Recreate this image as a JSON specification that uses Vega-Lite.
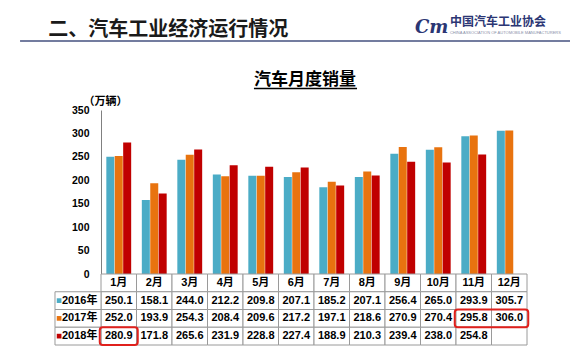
{
  "$schema": "https://vega.github.io/schema/vega-lite/v6.json",
  "background": "white",
  "padding": {"left": 19, "top": 14, "right": 5, "bottom": 5},
  "spacing": 0,
  "bounds": "flush",
  "config": {"view": {"stroke": null}, "font": "Liberation Sans, Noto Sans CJK SC"},
  "datasets": {
    "sales": [
      {"m": 1, "month": "1月", "year": "2016年", "v": 250.1},
      {"m": 2, "month": "2月", "year": "2016年", "v": 158.1},
      {"m": 3, "month": "3月", "year": "2016年", "v": 244.0},
      {"m": 4, "month": "4月", "year": "2016年", "v": 212.2},
      {"m": 5, "month": "5月", "year": "2016年", "v": 209.8},
      {"m": 6, "month": "6月", "year": "2016年", "v": 207.1},
      {"m": 7, "month": "7月", "year": "2016年", "v": 185.2},
      {"m": 8, "month": "8月", "year": "2016年", "v": 207.1},
      {"m": 9, "month": "9月", "year": "2016年", "v": 256.4},
      {"m": 10, "month": "10月", "year": "2016年", "v": 265.0},
      {"m": 11, "month": "11月", "year": "2016年", "v": 293.9},
      {"m": 12, "month": "12月", "year": "2016年", "v": 305.7},
      {"m": 1, "month": "1月", "year": "2017年", "v": 252.0},
      {"m": 2, "month": "2月", "year": "2017年", "v": 193.9},
      {"m": 3, "month": "3月", "year": "2017年", "v": 254.3},
      {"m": 4, "month": "4月", "year": "2017年", "v": 208.4},
      {"m": 5, "month": "5月", "year": "2017年", "v": 209.6},
      {"m": 6, "month": "6月", "year": "2017年", "v": 217.2},
      {"m": 7, "month": "7月", "year": "2017年", "v": 197.1},
      {"m": 8, "month": "8月", "year": "2017年", "v": 218.6},
      {"m": 9, "month": "9月", "year": "2017年", "v": 270.9},
      {"m": 10, "month": "10月", "year": "2017年", "v": 270.4},
      {"m": 11, "month": "11月", "year": "2017年", "v": 295.8},
      {"m": 12, "month": "12月", "year": "2017年", "v": 306.0},
      {"m": 1, "month": "1月", "year": "2018年", "v": 280.9},
      {"m": 2, "month": "2月", "year": "2018年", "v": 171.8},
      {"m": 3, "month": "3月", "year": "2018年", "v": 265.6},
      {"m": 4, "month": "4月", "year": "2018年", "v": 231.9},
      {"m": 5, "month": "5月", "year": "2018年", "v": 228.8},
      {"m": 6, "month": "6月", "year": "2018年", "v": 227.4},
      {"m": 7, "month": "7月", "year": "2018年", "v": 188.9},
      {"m": 8, "month": "8月", "year": "2018年", "v": 210.3},
      {"m": 9, "month": "9月", "year": "2018年", "v": 239.4},
      {"m": 10, "month": "10月", "year": "2018年", "v": 238.0},
      {"m": 11, "month": "11月", "year": "2018年", "v": 254.8},
      {"m": 12, "month": "12月", "year": "2018年", "v": null}
    ],
    "highlight": [
      {"year": "2018年", "from": 1, "to": 1},
      {"year": "2017年", "from": 11, "to": 12}
    ]
  },
  "vconcat": [
    {
      "width": 426,
      "height": 96,
      "data": {"values": [{}]},
      "layer": [
        {
          "mark": {"type": "rule", "color": "#44507f", "strokeWidth": 1.5},
          "encoding": {
            "x": {"datum": -19.0, "type": "quantitative", "scale": {"domain": [0, 100], "nice": false, "zero": false}, "axis": null},
            "x2": {"datum": 110.1},
            "y": {"datum": 28.1, "type": "quantitative", "scale": {"domain": [0, 100], "nice": false, "zero": false, "reverse": true}, "axis": null}
          }
        },
        {
          "mark": {"type": "text", "text": "二、汽车工业经济运行情况", "align": "left", "baseline": "middle", "fontSize": 20, "fontWeight": "bold", "color": "#1a1a1a"},
          "encoding": {
            "x": {"datum": -12.4, "type": "quantitative"},
            "y": {"datum": 16.7, "type": "quantitative"}
          }
        },
        {
          "mark": {"type": "text", "text": "Cm", "align": "left", "baseline": "middle", "fontSize": 18, "fontWeight": "bold", "fontStyle": "italic", "font": "DejaVu Serif", "color": "#2b3674"},
          "encoding": {
            "x": {"datum": 73.7, "type": "quantitative"},
            "y": {"datum": 14.6, "type": "quantitative"}
          }
        },
        {
          "mark": {"type": "text", "text": "中国汽车工业协会", "align": "left", "baseline": "middle", "fontSize": 12, "fontWeight": "bold", "color": "#2b3674"},
          "encoding": {
            "x": {"datum": 81.9, "type": "quantitative"},
            "y": {"datum": 8.3, "type": "quantitative"}
          }
        },
        {
          "mark": {"type": "text", "text": "CHINA ASSOCIATION OF AUTOMOBILE MANUFACTURERS", "align": "left", "baseline": "middle", "fontSize": 4, "color": "#8a8fa8"},
          "encoding": {
            "x": {"datum": 81.9, "type": "quantitative"},
            "y": {"datum": 19.8, "type": "quantitative"}
          }
        },
        {
          "mark": {"type": "text", "text": "汽车月度销量", "align": "center", "baseline": "middle", "fontSize": 17, "fontWeight": "bold", "color": "#000000"},
          "encoding": {
            "x": {"datum": 47.9, "type": "quantitative"},
            "y": {"datum": 68.75, "type": "quantitative"}
          }
        },
        {
          "mark": {"type": "rule", "color": "#000000", "strokeWidth": 1.5},
          "encoding": {
            "x": {"datum": 35.9, "type": "quantitative"},
            "x2": {"datum": 60.1},
            "y": {"datum": 77.6, "type": "quantitative"}
          }
        }
      ]
    },
    {
      "width": 426,
      "height": 164,
      "data": {"name": "sales"},
      "transform": [{"filter": "datum.v != null"}],
      "mark": {"type": "bar"},
      "encoding": {
        "x": {
          "field": "month", "type": "nominal",
          "scale": {"domain": ["1月","2月","3月","4月","5月","6月","7月","8月","9月","10月","11月","12月"], "paddingInner": 0.3, "paddingOuter": 0.15},
          "axis": null
        },
        "xOffset": {
          "field": "year", "type": "nominal",
          "scale": {"domain": ["2016年","2017年","2018年"], "paddingInner": 0.05, "paddingOuter": 0}
        },
        "y": {
          "field": "v", "type": "quantitative",
          "scale": {"domain": [0, 350], "nice": false, "zero": true},
          "axis": {
            "values": [0, 50, 100, 150, 200, 250, 300, 350],
            "grid": false,
            "ticks": false,
            "tickSize": 0,
            "labelPadding": 12,
            "labelFontSize": 10.5,
            "labelFontWeight": "bold",
            "labelColor": "#000000",
            "domainColor": "#808080",
            "title": "（万辆）",
            "titleAngle": 0,
            "titleX": 4,
            "titleY": -9,
            "titleAlign": "center",
            "titleBaseline": "middle",
            "titleFontSize": 11,
            "titleFontWeight": "bold",
            "titleColor": "#000000"
          }
        },
        "color": {
          "field": "year", "type": "nominal",
          "scale": {"domain": ["2016年","2017年","2018年"], "range": ["#4bacc6", "#e8730f", "#c00000"]},
          "legend": null
        }
      }
    },
    {
      "width": 426,
      "height": 71,
      "layer": [
        {
          "data": {"name": "sales"},
          "transform": [{"filter": "datum.year == '2016年'"}],
          "mark": {"type": "rect", "fill": "white", "stroke": "#9a9a9a", "strokeWidth": 1, "xOffset": -17.75, "x2Offset": 17.75},
          "encoding": {
            "x": {"field": "m", "type": "quantitative", "scale": {"domain": [0.5, 12.5], "nice": false, "zero": false}, "axis": null},
            "x2": {"field": "m"},
            "y": {"datum": "月份", "type": "nominal", "scale": {"domain": ["月份","2016年","2017年","2018年"], "paddingInner": 0, "paddingOuter": 0}, "axis": null}
          }
        },
        {
          "data": {"name": "sales"},
          "mark": {"type": "rect", "fill": "white", "stroke": "#9a9a9a", "strokeWidth": 1, "xOffset": -17.75, "x2Offset": 17.75},
          "encoding": {
            "x": {"field": "m", "type": "quantitative"},
            "x2": {"field": "m"},
            "y": {"field": "year", "type": "nominal"}
          }
        },
        {
          "data": {"name": "sales"},
          "transform": [{"filter": "datum.m == 1"}],
          "mark": {"type": "rect", "fill": "white", "stroke": "#9a9a9a", "strokeWidth": 1},
          "encoding": {
            "x": {"datum": -0.796, "type": "quantitative"},
            "x2": {"datum": 0.5},
            "y": {"field": "year", "type": "nominal"}
          }
        },
        {
          "data": {"name": "sales"},
          "transform": [{"filter": "datum.year == '2016年'"}],
          "mark": {"type": "text", "fontSize": 11, "fontWeight": "bold", "color": "#000000", "baseline": "middle"},
          "encoding": {
            "x": {"field": "m", "type": "quantitative"},
            "y": {"datum": "月份", "type": "nominal"},
            "text": {"field": "month"}
          }
        },
        {
          "data": {"name": "sales"},
          "transform": [{"filter": "datum.v != null"}],
          "mark": {"type": "text", "fontSize": 11, "fontWeight": "bold", "color": "#000000", "baseline": "middle"},
          "encoding": {
            "x": {"field": "m", "type": "quantitative"},
            "y": {"field": "year", "type": "nominal"},
            "text": {"field": "v", "type": "quantitative", "format": ".1f"}
          }
        },
        {
          "data": {"name": "sales"},
          "transform": [{"filter": "datum.m == 1"}],
          "mark": {"type": "point", "shape": "square", "filled": true, "size": 22, "opacity": 1},
          "encoding": {
            "x": {"datum": -0.68, "type": "quantitative"},
            "y": {"field": "year", "type": "nominal"},
            "color": {"field": "year", "type": "nominal", "scale": {"domain": ["2016年","2017年","2018年"], "range": ["#4bacc6", "#e8730f", "#c00000"]}, "legend": null}
          }
        },
        {
          "data": {"name": "sales"},
          "transform": [{"filter": "datum.m == 1"}],
          "mark": {"type": "text", "align": "left", "baseline": "middle", "fontSize": 11, "fontWeight": "bold", "color": "#000000"},
          "encoding": {
            "x": {"datum": -0.6, "type": "quantitative"},
            "y": {"field": "year", "type": "nominal"},
            "text": {"field": "year"}
          }
        },
        {
          "data": {"name": "highlight"},
          "mark": {"type": "rect", "fill": null, "fillOpacity": 0, "stroke": "#e0201c", "strokeWidth": 2, "cornerRadius": 3, "xOffset": -19, "x2Offset": 19},
          "encoding": {
            "x": {"field": "from", "type": "quantitative"},
            "x2": {"field": "to"},
            "y": {"field": "year", "type": "nominal"}
          }
        }
      ]
    }
  ]
}
